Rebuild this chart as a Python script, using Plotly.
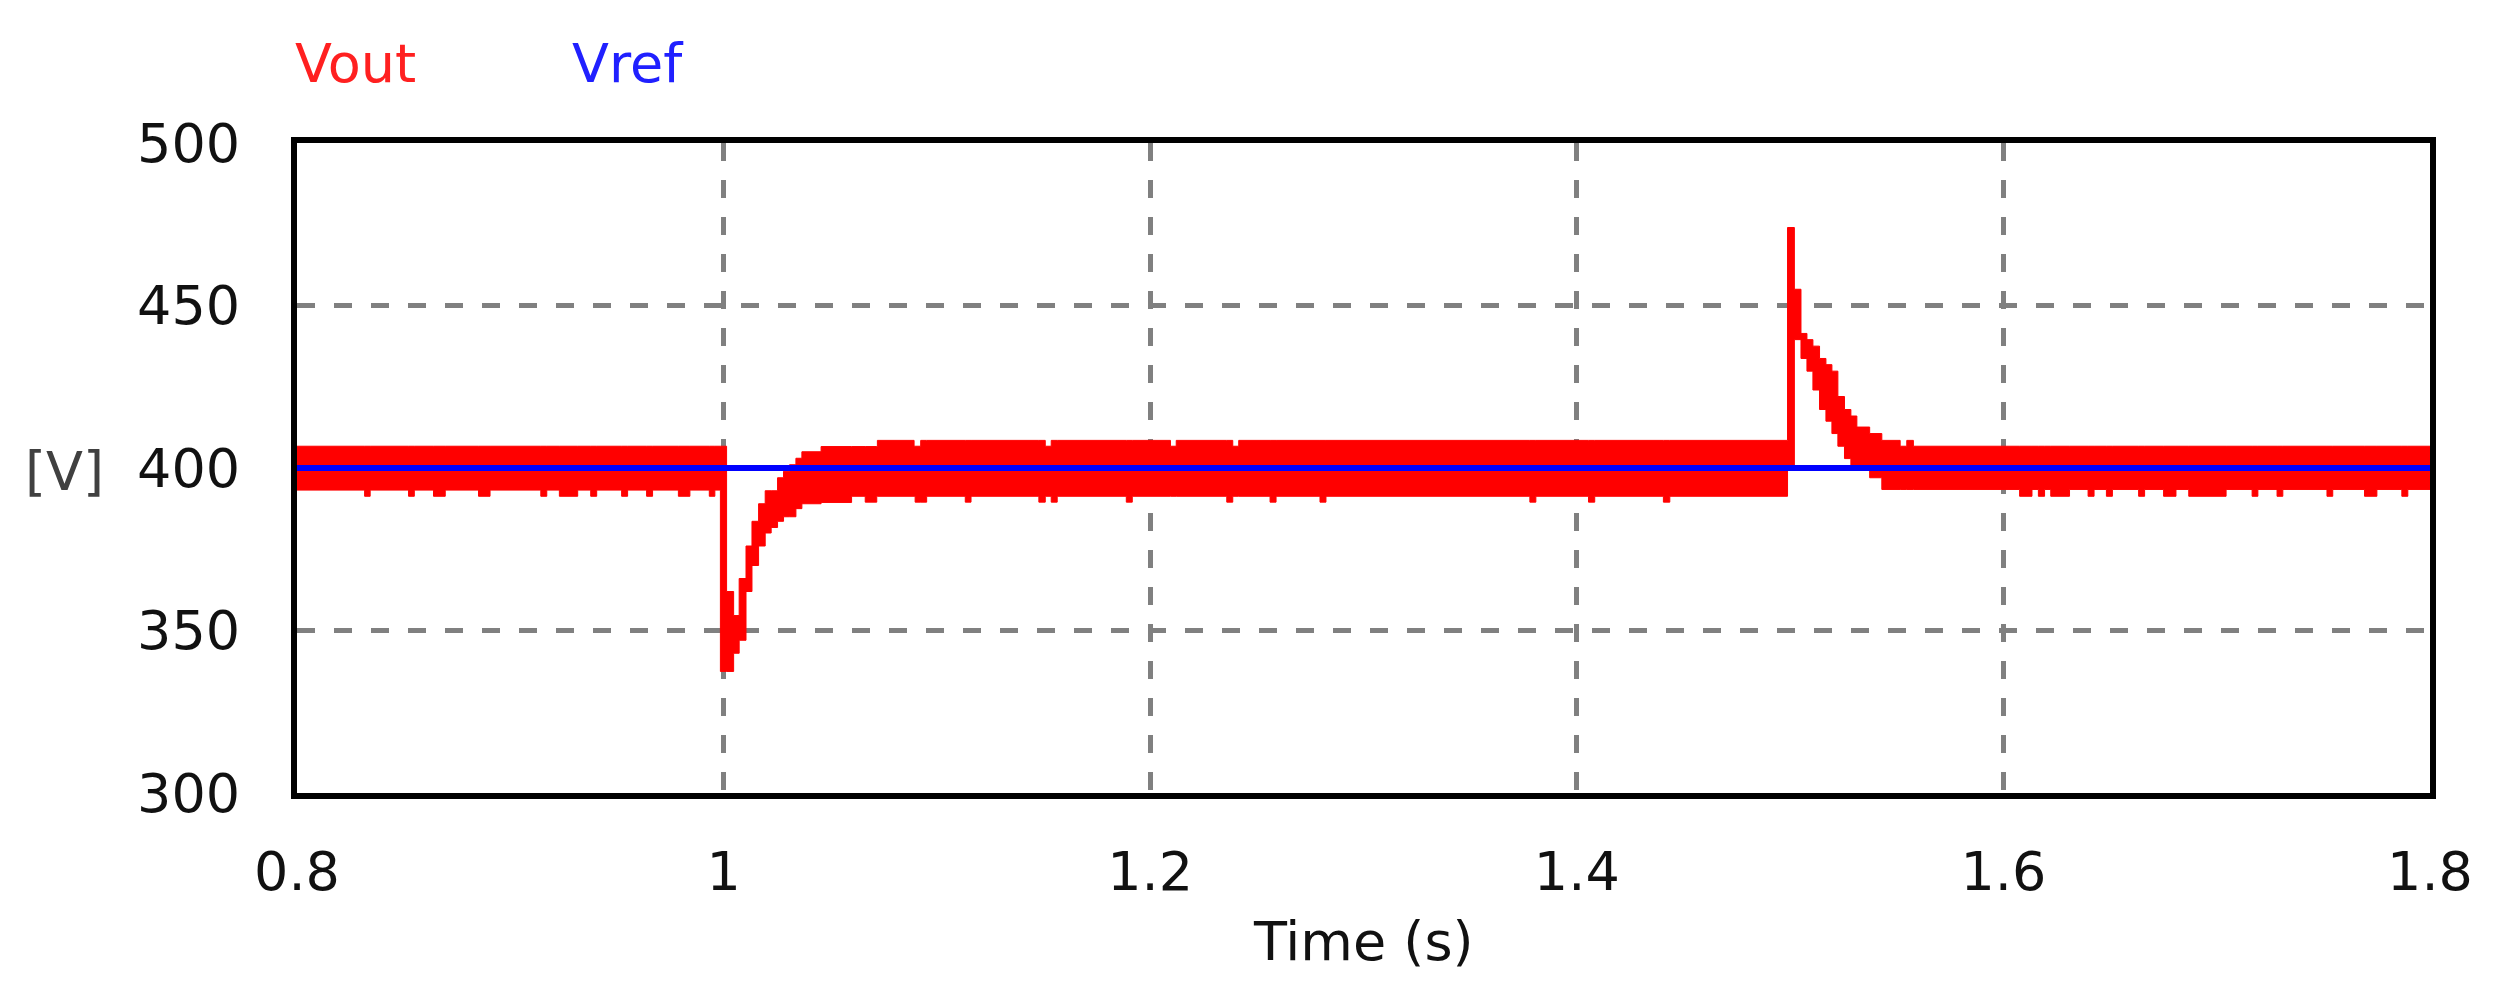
import plotly.graph_objects as go

# Vout band: segment start time, upper and lower edge of the ripple band
seg_t = [0.8, 0.9985, 1.0014, 1.0047, 1.0073, 1.0105, 1.0133, 1.0164, 1.0195, 1.0223,
         1.0253, 1.0281, 1.0309, 1.0339, 1.0367, 1.0457, 1.0600, 1.0721,
         1.4988, 1.5020, 1.5051, 1.5079, 1.5107, 1.5138, 1.5168, 1.5196, 1.5224,
         1.5255, 1.5285, 1.5313, 1.5373, 1.5430, 1.5516, 1.5547, 1.5578]
seg_hi = [406.7, 406.7, 362.0, 354.6, 366.0, 376.0, 383.6, 389.0, 393.0, 393.0,
          397.0, 399.0, 401.0, 403.0, 405.0, 406.6, 406.6, 408.5,
          474.0, 455.0, 441.4, 439.5, 437.5, 433.7, 431.8, 429.8, 422.0,
          418.0, 416.0, 412.6, 410.6, 408.5, 406.7, 408.5, 406.7]
seg_lo = [393.2, 337.4, 337.4, 343.0, 347.0, 362.0, 370.0, 376.0, 380.0, 381.7,
          383.6, 385.0, 385.0, 387.5, 389.0, 389.4, 391.3, 391.3,
          400.0, 439.5, 433.7, 429.8, 424.0, 418.0, 414.4, 410.6, 406.7,
          402.9, 400.5, 400.0, 397.0, 393.4, 393.4, 393.4, 393.4]

# short downward spikes on the lower edge of the band
dip_t0 = [0.8317, 0.8523, 0.8640, 0.8851, 0.9143, 0.9230, 0.9377, 0.9522, 0.9639, 0.9788, 0.9933,
          1.0664, 1.0898, 1.1133, 1.1478, 1.1536, 1.1888, 1.2359, 1.2562, 1.2796, 1.3780, 1.4055, 1.4406,
          1.6076, 1.6164, 1.6222, 1.6397, 1.6483, 1.6634, 1.6751, 1.6869, 1.7166, 1.7283, 1.7517, 1.7693, 1.7868]
dip_t1 = [0.8343, 0.8550, 0.8695, 0.8905, 0.9171, 0.9316, 0.9405, 0.9550, 0.9667, 0.9842, 0.9959,
          1.0718, 1.0952, 1.1160, 1.1508, 1.1564, 1.1916, 1.2387, 1.2590, 1.2824, 1.3808, 1.4084, 1.4436,
          1.6134, 1.6193, 1.6310, 1.6425, 1.6511, 1.6662, 1.6809, 1.7044, 1.7193, 1.7310, 1.7544, 1.7751, 1.7896]
dip_lo = [391.3] * 11 + [389.5] * 12 + [391.3] * 13

# short notches on the upper edge
notch_t0 = [1.0893, 1.1508, 1.2095, 1.2387]
notch_t1 = [1.0924, 1.1536, 1.2122, 1.2415]
notch_hi = [406.7, 406.7, 406.7, 406.7]

vref_t = [0.8, 1.8]
vref_v = [400, 400]

x_ticks = [0.8, 1.0, 1.2, 1.4, 1.6, 1.8]
x_labels = ["0.8", "1", "1.2", "1.4", "1.6", "1.8"]
y_ticks = [300, 350, 400, 450, 500]

# merge segments and spikes into one step envelope
bps = sorted(set(seg_t + dip_t0 + dip_t1 + notch_t0 + notch_t1 + [1.8]))
env_t, env_hi, env_lo = [], [], []
for t in bps:
    k = max(i for i, s in enumerate(seg_t) if s <= t + 1e-9)
    hi, lo = seg_hi[k], seg_lo[k]
    for a, b, v in zip(dip_t0, dip_t1, dip_lo):
        if a <= t < b:
            lo = v
    for a, b, v in zip(notch_t0, notch_t1, notch_hi):
        if a <= t < b:
            hi = v
    env_t.append(t)
    env_hi.append(hi)
    env_lo.append(lo)

font_family = "DejaVu Sans"
fs = 54

fig = go.Figure()
fig.add_trace(go.Scatter(x=env_t, y=env_lo, mode="lines",
                         line=dict(color="#ff0000", width=1, shape="hv"),
                         showlegend=False, hoverinfo="skip"))
fig.add_trace(go.Scatter(x=env_t, y=env_hi, mode="lines", name="Vout",
                         line=dict(color="#ff0000", width=1, shape="hv"),
                         fill="tonexty", fillcolor="#ff0000", showlegend=False))
fig.add_trace(go.Scatter(x=vref_t, y=vref_v, mode="lines", name="Vref",
                         line=dict(color="#0000ff", width=6), showlegend=False))

axis_common = dict(
    showgrid=True, gridcolor="#808080", gridwidth=5, griddash="18px,19px",
    showline=True, linecolor="black", linewidth=6, mirror=True,
    zeroline=False, ticks="",
    tickfont=dict(family=font_family, size=fs, color="#111111"),
)
fig.update_xaxes(range=[0.8, 1.8], tickvals=x_ticks, ticktext=x_labels,
                 ticklabelstandoff=26, **axis_common)
fig.update_yaxes(range=[300, 500], tickvals=y_ticks,
                 ticklabelstandoff=40, **axis_common)

fig.add_annotation(text="[V]", x=-0.109, y=0.495, xref="paper", yref="paper",
                   showarrow=False, xanchor="center", yanchor="middle",
                   font=dict(family=font_family, size=fs, color="#404040"))
fig.add_annotation(text="Time (s)", x=0.5, y=-0.228, xref="paper", yref="paper",
                   showarrow=False, xanchor="center", yanchor="middle",
                   font=dict(family=font_family, size=fs, color="#111111"))
fig.add_annotation(text="Vout", x=-0.002, y=1.122, xref="paper", yref="paper",
                   showarrow=False, xanchor="left", yanchor="middle",
                   font=dict(family=font_family, size=fs, color="#ff2020"))
fig.add_annotation(text="Vref", x=0.128, y=1.122, xref="paper", yref="paper",
                   showarrow=False, xanchor="left", yanchor="middle",
                   font=dict(family=font_family, size=fs, color="#2020ff"))

# the page body adds an 8px offset, so the figure is sized to fit inside the window
fig.update_layout(
    width=2494, height=989,
    margin=dict(l=289, r=72, t=135, b=204),
    paper_bgcolor="white", plot_bgcolor="white",
)

fig.write_html("out.html")
